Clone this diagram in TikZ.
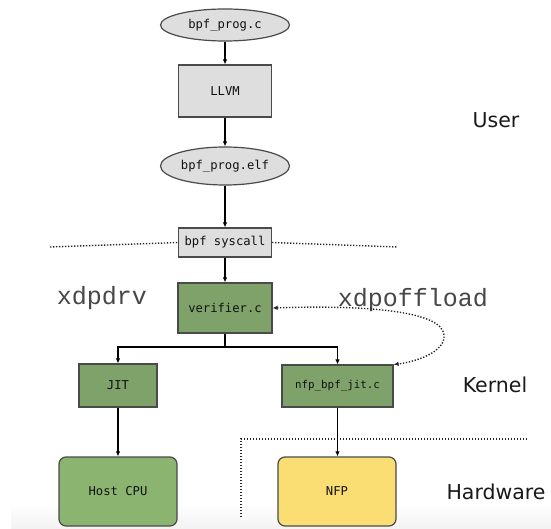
\documentclass[tikz,border=0pt]{standalone}
\usepackage{fontspec}
\newfontfamily\boxfont{DejaVu Sans Mono}
\newfontfamily\layerfont{DejaVu Sans}
\newfontfamily\codefont{Liberation Mono}
\usetikzlibrary{arrows.meta,shapes.geometric}

\definecolor{greyfill}{HTML}{DEDEDE}
\definecolor{kgreen}{HTML}{7FA26B}
\definecolor{hgreen}{HTML}{8AB46F}
\definecolor{nfpyellow}{HTML}{FADD73}
\definecolor{edgegrey}{HTML}{4A4A4A}
\definecolor{textgrey}{HTML}{111111}

\begin{document}
\begin{tikzpicture}[x=1pt,y=-1pt,
  base/.style={draw=edgegrey, line width=1.2pt, inner sep=0pt, text=textgrey,
    font=\boxfont\fontsize{12.2}{14}\selectfont},
  greybox/.style={base, rectangle, fill=greyfill},
  greyoval/.style={base, ellipse, fill=greyfill},
  kernbox/.style={base, rectangle, fill=kgreen},
  hwbox/.style={base, rectangle, rounded corners=7pt, minimum width=118pt, minimum height=69pt},
  flow/.style={draw=black, line width=1.5pt, -{Latex[length=5pt,width=4.5pt]}},
  layerline/.style={draw=black!85, line width=1.4pt, dash pattern=on 1.3pt off 1.7pt},
  offload/.style={draw=black!85, line width=1.4pt, dash pattern=on 1.3pt off 1.7pt,
    {Latex[length=5pt,width=4.5pt]}-{Latex[length=5pt,width=4.5pt]}},
  layer/.style={font=\layerfont\fontsize{20.5}{24}\selectfont, text=black!90},
  mode/.style={font=\codefont\fontsize{25}{28}\selectfont, text=black!72}]

\useasboundingbox (0,0) rectangle (551,529);
\shade[top color=white, bottom color=black!5] (11,503) rectangle (551,529);

% user space toolchain
\node[greyoval, minimum width=129pt, minimum height=32pt] (src) at (225,25) {bpf\_prog.c};
\node[greybox, minimum width=93pt, minimum height=52pt] (llvm) at (225,91) {LLVM};
\node[greyoval, minimum width=129pt, minimum height=38pt] (elf) at (225,166) {bpf\_prog.elf};
\node[greybox, minimum width=93pt, minimum height=29pt] (sys) at (225,242.5) {bpf syscall};

% kernel
\node[kernbox, minimum width=94pt, minimum height=50pt] (ver) at (225,308) {verifier.c};
\node[kernbox, minimum width=78pt, minimum height=43pt] (jit) at (118,385.5) {JIT};
\node[kernbox, minimum width=111pt, minimum height=42pt,
      font=\boxfont\fontsize{10.8}{13}\selectfont] (nfpjit) at (337.5,386) {nfp\_bpf\_jit.c};

% hardware
\node[base, hwbox, fill=hgreen] (cpu) at (118,491.5) {Host CPU};
\node[base, hwbox, fill=nfpyellow] (nfp) at (337,491.5) {NFP};

% layer labels
\node[layer] (user) at (496,120) {User};
\node[layer] (kern) at (495,385) {Kernel};
\node[layer] (hw) at (496,492) {Hardware};
\node[mode] (drv) at (102,298) {xdpdrv};
\node[mode] (off) at (413,300) {xdpoffload};

% layer boundaries
\coordinate (ukL) at (50,247);
\coordinate (ukR) at (398,247);
\coordinate (hwB) at (241,517);
\coordinate (hwC) at (241,439);
\coordinate (hwR) at (527,439);
\draw[layerline] (ukL) -- (sys.west);
\draw[layerline] (sys.east) -- (ukR);
\draw[layerline] (hwB) -- (hwC) -- (hwR);

% program flow
\draw[flow] (src) -- (llvm);
\draw[flow] (llvm) -- (elf);
\draw[flow] (elf) -- (sys);
\draw[flow] (sys) -- (ver);
\coordinate (split) at (225,347);
\draw[line width=1.5pt] (ver) -- (split);
\draw[flow] (split) -| (jit);
\draw[flow] (split) -| (nfpjit);
\draw[flow] (jit) -- (cpu);
\draw[flow] (nfpjit.south) -- (nfp.north -| nfpjit.south);

% offload path
\draw[offload] (ver.east) .. controls (360,305) and (442,310) .. (444,335)
  .. controls (446,352) and (415,362) .. (nfpjit.north east);
\end{tikzpicture}
\end{document}
